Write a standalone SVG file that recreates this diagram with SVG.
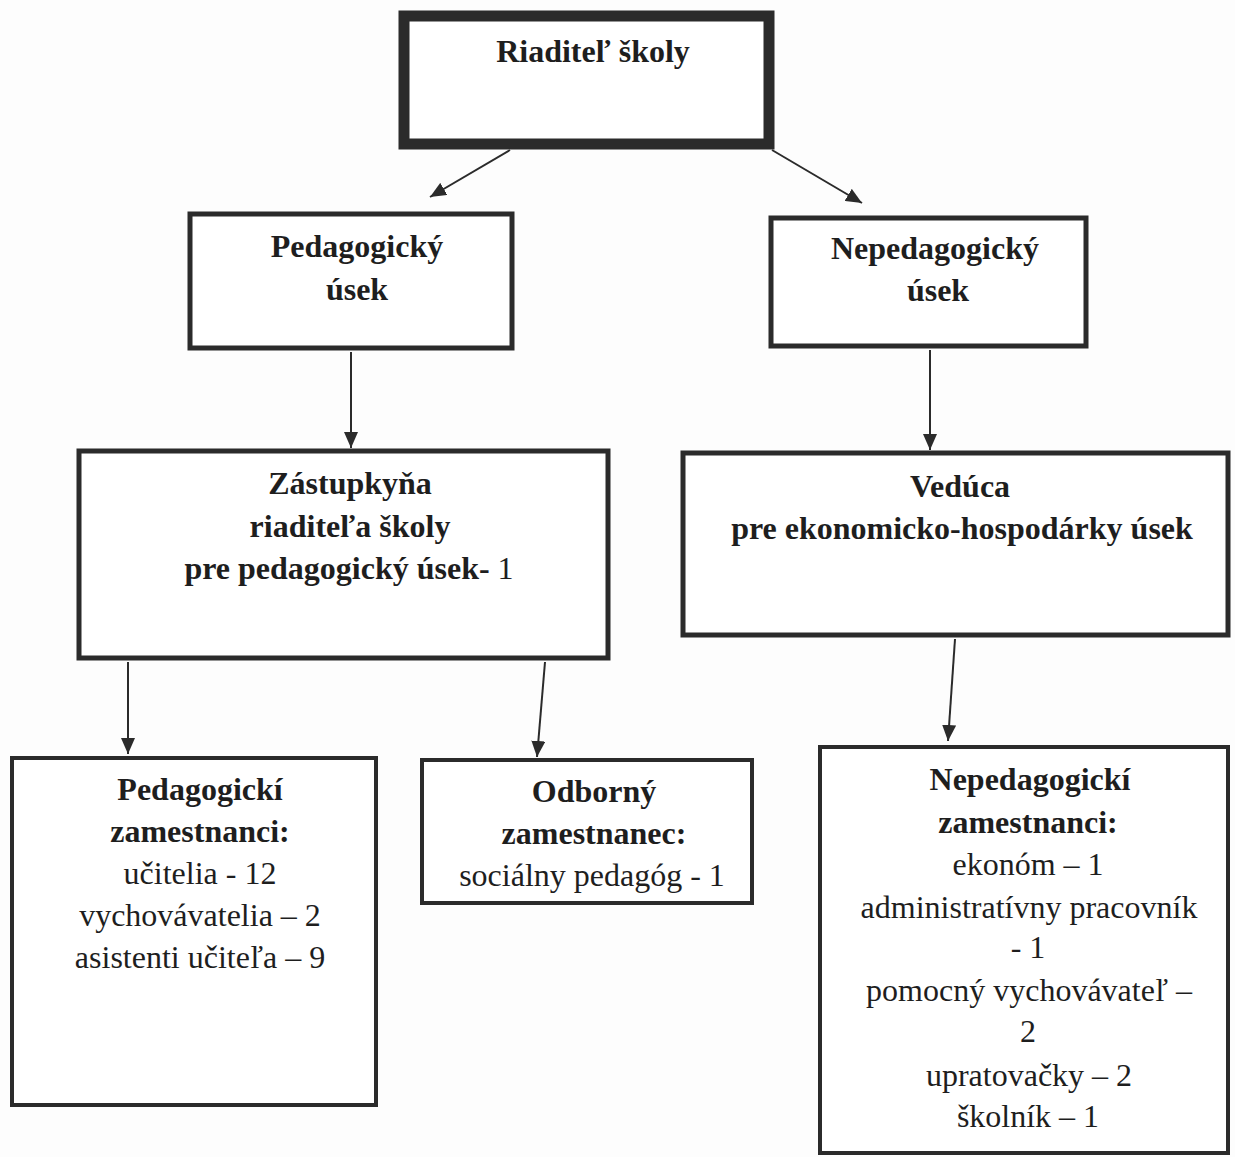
<svg xmlns="http://www.w3.org/2000/svg" width="1235" height="1157" viewBox="0 0 1235 1157">
<style>
.box{fill:#fff;stroke:#2b2b2b;stroke-width:5}
.t{font-family:"Liberation Serif","Times New Roman",serif;font-size:32px;fill:#1e1e1e;text-anchor:middle}
.b{font-weight:bold}
.c{stroke:#2b2b2b;stroke-width:2;fill:none;marker-end:url(#ah)}
</style>
<defs>
<marker id="ah" markerUnits="userSpaceOnUse" markerWidth="16" markerHeight="14" refX="16" refY="7" orient="auto">
<path d="M0,0 L16,7 L0,14 Z" fill="#2b2b2b"/>
</marker>
</defs>
<rect width="1235" height="1157" fill="#fdfdfd"/>
<g id="connectors">
<line class="c" x1="510" y1="150" x2="430" y2="197"/>
<line class="c" x1="772" y1="150" x2="862" y2="203"/>
<line class="c" x1="351" y1="352" x2="351" y2="448"/>
<line class="c" x1="930" y1="350" x2="930" y2="450"/>
<line class="c" x1="128" y1="662" x2="128" y2="754"/>
<line class="c" x1="545" y1="662" x2="537" y2="757"/>
<line class="c" x1="955" y1="639" x2="948" y2="741"/>
</g>
<g id="riaditel">
<rect class="box" x="404" y="16" width="365" height="128" style="stroke-width:11"/>
<text class="t b" x="593" y="62">Riaditeľ školy</text>
</g>
<g id="pedagogicky-usek">
<rect class="box" x="190" y="214" width="322" height="134"/>
<text class="t b" x="357" y="257">Pedagogický</text>
<text class="t b" x="357" y="300">úsek</text>
</g>
<g id="nepedagogicky-usek">
<rect class="box" x="771" y="218" width="315" height="128"/>
<text class="t b" x="935" y="259">Nepedagogický</text>
<text class="t b" x="938" y="301">úsek</text>
</g>
<g id="zastupkyna">
<rect class="box" x="79" y="451" width="529" height="207"/>
<text class="t b" x="350" y="494">Zástupkyňa</text>
<text class="t b" x="350" y="537">riaditeľa školy</text>
<text class="t" x="349" y="579"><tspan class="b">pre pedagogický úsek-</tspan> 1</text>
</g>
<g id="veduca">
<rect class="box" x="683" y="453" width="545" height="182"/>
<text class="t b" x="960" y="497">Vedúca</text>
<text class="t b" x="962" y="539">pre ekonomicko-hospodárky úsek</text>
</g>
<g id="pedagogicki-zamestnanci">
<rect class="box" x="12" y="758" width="364" height="347" style="stroke-width:4"/>
<text class="t b" x="200" y="800">Pedagogickí</text>
<text class="t b" x="200" y="842">zamestnanci:</text>
<text class="t" x="200" y="884">učitelia - 12</text>
<text class="t" x="200" y="926">vychovávatelia – 2</text>
<text class="t" x="200" y="968">asistenti učiteľa – 9</text>
</g>
<g id="odborny-zamestnanec">
<rect class="box" x="422" y="760" width="330" height="143" style="stroke-width:4"/>
<text class="t b" x="594" y="802">Odborný</text>
<text class="t b" x="594" y="844">zamestnanec:</text>
<text class="t" x="592" y="886">sociálny pedagóg - 1</text>
</g>
<g id="nepedagogicki-zamestnanci">
<rect class="box" x="820" y="747" width="408" height="406" style="stroke-width:4"/>
<text class="t b" x="1030" y="790">Nepedagogickí</text>
<text class="t b" x="1028" y="833">zamestnanci:</text>
<text class="t" x="1028" y="875">ekonóm – 1</text>
<text class="t" x="1029" y="918">administratívny pracovník</text>
<text class="t" x="1028" y="958">- 1</text>
<text class="t" x="1029" y="1001">pomocný vychovávateľ –</text>
<text class="t" x="1028" y="1042">2</text>
<text class="t" x="1029" y="1086">upratovačky – 2</text>
<text class="t" x="1028" y="1127">školník – 1</text>
</g>
</svg>
